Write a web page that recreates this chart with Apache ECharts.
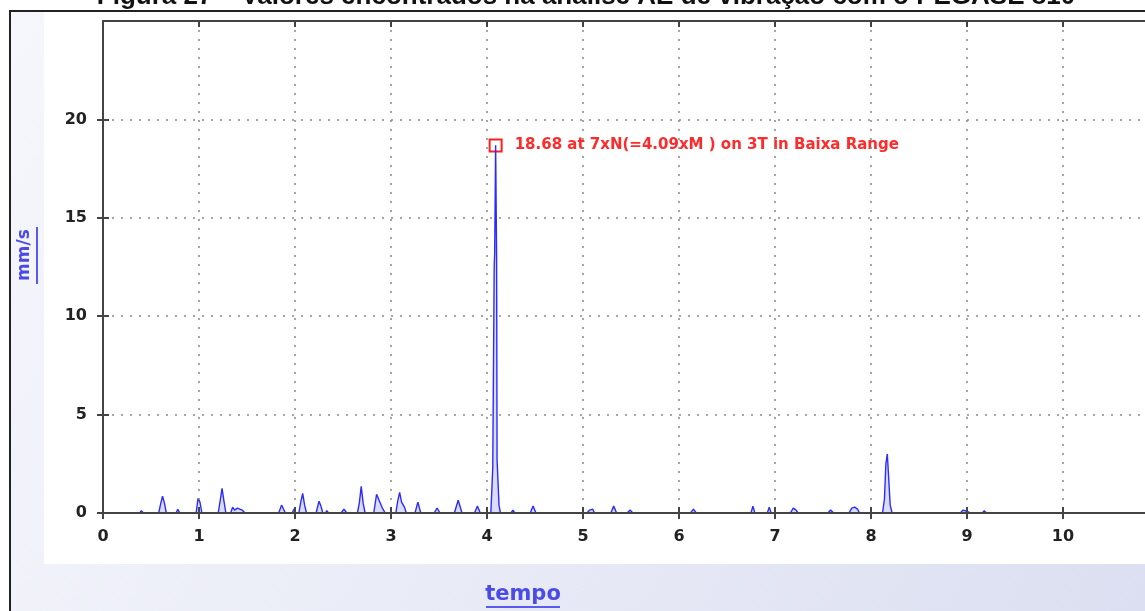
<!DOCTYPE html>
<html>
<head>
<meta charset="utf-8">
<script src="https://cdn.jsdelivr.net/npm/echarts@6/dist/echarts.min.js"></script>
<style>html,body{margin:0;padding:0;background:#fff}#c{width:1145px;height:611px}</style>
</head>
<body>
<div id="c"></div>
<script>
// tick labels
var xTicks = [0,1,2,3,4,5,6,7,8,9,10];
var yTicks = [0,5,10,15,20];
// spectrum (x = tempo, y = mm/s)
var freq = [0.00,
0.38,0.40,0.42,
0.58,0.60,0.62,0.64,0.66,
0.76,0.78,0.80,
0.97,0.99,1.01,1.03,
1.20,1.22,1.24,1.26,1.28,
1.33,1.35,1.37,1.40,1.42,1.45,1.48,
1.55,1.56,1.57,
1.73,1.75,1.78,
1.83,1.86,1.88,1.90,
1.97,1.99,2.01,
2.04,2.06,2.08,2.10,2.12,
2.22,2.25,2.27,2.29,
2.32,2.33,2.35,
2.48,2.51,2.54,
2.65,2.67,2.69,2.71,2.73,
2.82,2.85,2.88,2.91,2.94,
3.05,3.07,3.09,3.11,3.14,3.16,
3.25,3.28,3.31,
3.45,3.48,3.51,
3.66,3.70,3.74,
3.87,3.90,3.93,
4.04,4.06,4.075,4.08,4.09,4.10,4.105,4.115,4.125,4.14,
4.25,4.27,4.29,
4.45,4.48,4.51,
4.71,4.73,4.76,
4.88,4.90,4.92,
5.04,5.07,5.10,5.12,
5.18,5.19,5.21,
5.29,5.32,5.35,
5.46,5.49,5.52,
5.92,5.94,5.96,
6.12,6.15,6.18,
6.32,6.34,6.36,
6.75,6.77,6.79,
6.92,6.94,6.96,
7.07,7.09,7.11,
7.16,7.19,7.22,7.24,
7.37,7.39,7.41,
7.55,7.58,7.61,
7.77,7.80,7.83,7.86,7.88,
7.94,7.96,7.98,
8.12,8.14,8.155,8.17,8.185,8.20,8.22,
8.54,8.56,8.58,
8.93,8.96,8.99,9.01,
9.04,9.06,9.08,
9.16,9.18,9.20,
9.26,9.28,9.30,
9.39,9.41,9.43,
9.88,9.90,9.92,
11.0];
var amp = [0,
0,0.12,0,
0,0.45,0.85,0.5,0,
0,0.18,0,
0,0.75,0.55,0,
0,0.6,1.25,0.6,0,
0,0.3,0.15,0.25,0.15,0.15,0,
0,0.1,0,
0,0.1,0,
0,0.4,0.2,0,
0,0.2,0,
0,0.55,1.0,0.4,0,
0,0.6,0.35,0,
0,0.12,0,
0,0.2,0,
0,0.5,1.35,0.5,0,
0,0.95,0.6,0.25,0,
0,0.6,1.05,0.55,0.3,0,
0,0.55,0,
0,0.25,0,
0,0.65,0,
0,0.35,0,
0,2.3,12.5,13.2,18.68,13.0,2.7,2.6,0.4,0,
0,0.15,0,
0,0.35,0,
0,0.1,0,
0,0.1,0,
0,0.15,0.2,0,
0,0.1,0,
0,0.35,0,
0,0.15,0,
0,0.1,0,
0,0.2,0,
0,0.1,0,
0,0.35,0,
0,0.3,0,
0,0.1,0,
0,0.25,0.15,0,
0,0.1,0,
0,0.15,0,
0,0.25,0.3,0.2,0,
0,0.1,0,
0,0.7,2.5,3.0,1.7,0.4,0,
0,0.1,0,
0,0.15,0.1,0,
0,0.1,0,
0,0.12,0,
0,0.1,0,
0,0.1,0,
0,0.1,0,
0];
var peak = [4.09, 18.68];
var peakText = '18.68 at 7xN(=4.09xM ) on 3T in Baixa Range';
var titleText = 'Figura 27 – Valores encontrados na análise AE de vibração com o PEGASE 810';
var xName = 'tempo';
var yName = 'mm/s';

var pts = freq.map(function(f,i){return [f, amp[i]];});
var chart = echarts.init(document.getElementById('c'));
var FONT = '"DejaVu Sans", Verdana, sans-serif';
var labelStyle = {color:'#222', fontFamily:FONT, fontWeight:'bold', fontSize:16};
var splitDot = {show:true, lineStyle:{color:'#888', width:1.5, type:[2,7]}};
var axisLn = {show:true, lineStyle:{color:'#444', width:2}};
var xBase = {type:'value', min:0, max:11, interval:1, gridIndex:0, z:10};
var yBase = {type:'value', min:0, max:25, interval:5, gridIndex:0, z:10};
function ext(a,b){var o={};for(var k in a)o[k]=a[k];for(var k2 in b)o[k2]=b[k2];return o;}

chart.setOption({
  animation:false,
  backgroundColor:'#fff',
  grid:{left:103, top:21, width:1056, height:492, containLabel:false, outerBoundsMode:'none'},
  xAxis:[
    ext(xBase,{position:'bottom', axisLine:axisLn,
      axisTick:{show:true, inside:false, length:6, lineStyle:{color:'#444', width:2}},
      axisLabel:ext(labelStyle,{margin:16, showMaxLabel:false, formatter:function(v){return xTicks.indexOf(v)>=0?String(v):'';}}),
      splitLine:splitDot}),
    ext(xBase,{position:'bottom', axisLine:{show:false},
      axisTick:{show:true, inside:true, length:6, lineStyle:{color:'#444', width:2}},
      axisLabel:{show:false}, splitLine:{show:false}}),
    ext(xBase,{position:'top', axisLine:axisLn,
      axisTick:{show:true, inside:true, length:6, lineStyle:{color:'#444', width:2}},
      axisLabel:{show:false}, splitLine:{show:false}})
  ],
  yAxis:[
    ext(yBase,{position:'left', axisLine:axisLn,
      axisTick:{show:true, inside:false, length:6, lineStyle:{color:'#444', width:2}},
      axisLabel:ext(labelStyle,{margin:16, showMaxLabel:false, formatter:function(v){return yTicks.indexOf(v)>=0?String(v):'';}}),
      splitLine:splitDot}),
    ext(yBase,{position:'left', axisLine:{show:false},
      axisTick:{show:true, inside:true, length:6, lineStyle:{color:'#444', width:2}},
      axisLabel:{show:false}, splitLine:{show:false}})
  ],
  graphic:[
    {type:'rect', z:-20, silent:true, shape:{x:10,y:11,width:1140,height:605},
      style:{fill:new echarts.graphic.LinearGradient(0,0,1,1,[{offset:0,color:'#f6f7fc'},{offset:1,color:'#dcdff1'}])}},
    {type:'rect', z:-19, silent:true, shape:{x:44,y:12,width:1110,height:552}, style:{fill:'#ffffff'}},
    {type:'line', z:10, silent:true, shape:{x1:9,y1:11,x2:1150,y2:11}, style:{stroke:'#222', lineWidth:2}},
    {type:'line', z:10, silent:true, shape:{x1:10,y1:10,x2:10,y2:620}, style:{stroke:'#222', lineWidth:2}},
    {type:'text', z:10, silent:true, x:586, y:-3, style:{text:titleText, fill:'#111', font:'bold 26px "Liberation Sans", Arial, sans-serif', textAlign:'center', textVerticalAlign:'middle'}},
    {type:'text', z:10, silent:true, x:523, y:595, style:{text:xName, fill:'#4a4ae6', font:'bold 21px '+FONT, textAlign:'center', textVerticalAlign:'middle'}},
    {type:'line', z:10, silent:true, shape:{x1:486,y1:607,x2:560,y2:607}, style:{stroke:'#5a5af0', lineWidth:2}},
    {type:'text', z:10, silent:true, x:25, y:255, rotation:Math.PI/2, style:{text:yName, fill:'#4a4ae6', font:'bold 17px '+FONT, textAlign:'center', textVerticalAlign:'middle'}},
    {type:'line', z:10, silent:true, shape:{x1:37,y1:227,x2:37,y2:284}, style:{stroke:'#5a5af0', lineWidth:2}}
  ],
  series:[{
    type:'line', xAxisIndex:0, yAxisIndex:0, data:pts, showSymbol:false, symbol:'none',
    lineStyle:{color:'#2b2bff', width:1.4},
    areaStyle:{color:'rgba(90,90,255,0.3)'},
    z:5,
    markPoint:{
      symbol:'rect', symbolSize:12,
      itemStyle:{color:'rgba(0,0,0,0)', borderColor:'#ff2020', borderWidth:2},
      label:{show:true, position:'right', distance:12, formatter:peakText, color:'#ff2a2a', fontFamily:FONT, fontWeight:'bold', fontSize:15},
      data:[{coord:peak}]
    }
  }]
});
</script>
</body>
</html>
